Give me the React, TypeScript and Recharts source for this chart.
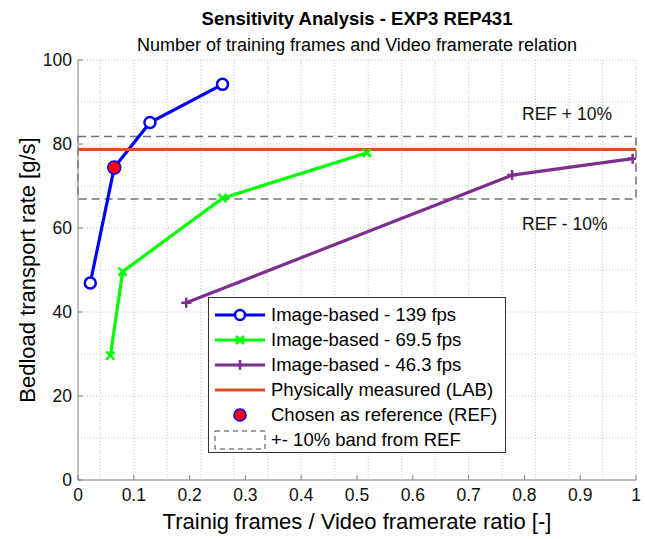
import React from 'react';
import {
  ComposedChart,
  Line,
  Scatter,
  XAxis,
  YAxis,
  CartesianGrid,
  ReferenceLine,
  ReferenceArea,
} from 'recharts';

// ratio of training frames to video framerate, and bedload rate [g/s]
const fps139 = [
  { x: 0.022, y: 46.9 },
  { x: 0.065, y: 74.4 },
  { x: 0.129, y: 85.1 },
  { x: 0.259, y: 94.2 },
];
const fps69 = [
  { x: 0.058, y: 29.6 },
  { x: 0.08, y: 49.6 },
  { x: 0.259, y: 67.1 },
  { x: 0.518, y: 77.9 },
];
const fps46 = [
  { x: 0.194, y: 42.2 },
  { x: 0.778, y: 72.6 },
  { x: 0.994, y: 76.5 },
];
const labValue = 78.7;
const refPoint = [{ x: 0.065, y: 74.4 }];
const bandUpper = 81.8;
const bandLower = 66.9;

const xTicks = [0, 0.1, 0.2, 0.3, 0.4, 0.5, 0.6, 0.7, 0.8, 0.9, 1];
const yTicks = [0, 20, 40, 60, 80, 100];
const xMinor = Array.from({ length: 51 }, (_, i) => i / 50);
const yMinor = Array.from({ length: 21 }, (_, i) => i * 5);

const FONT = '"Liberation Sans", Arial, Helvetica, sans-serif';
const BLUE = '#0000FF';
const GREEN = '#00FF00';
const PURPLE = '#7E2F8E';
const ORANGE = '#D95319';
const AXIS = '#808080';

const CircleDot = (p: any) => (
  <circle key={`c${p.index}`} cx={p.cx} cy={p.cy} r={5.5} fill="white" stroke={BLUE} strokeWidth={2.5} />
);
const CrossDot = (p: any) => (
  <path
    key={`x${p.index}`}
    d={`M${p.cx - 4},${p.cy - 4}L${p.cx + 4},${p.cy + 4}M${p.cx - 4},${p.cy + 4}L${p.cx + 4},${p.cy - 4}`}
    stroke={GREEN}
    strokeWidth={2.5}
  />
);
const PlusDot = (p: any) => (
  <path
    key={`p${p.index}`}
    d={`M${p.cx - 5},${p.cy}L${p.cx + 5},${p.cy}M${p.cx},${p.cy - 5}L${p.cx},${p.cy + 5}`}
    stroke={PURPLE}
    strokeWidth={2.5}
  />
);
const RefShape = (p: any) => (
  <circle cx={p.cx} cy={p.cy} r={6.5} fill="#FF0000" stroke={BLUE} strokeWidth={1.5} />
);

const legendItems = [
  { label: 'Image-based - 139 fps', kind: 'o', color: BLUE },
  { label: 'Image-based - 69.5 fps', kind: 'x', color: GREEN },
  { label: 'Image-based - 46.3 fps', kind: '+', color: PURPLE },
  { label: 'Physically measured (LAB)', kind: '-', color: ORANGE },
  { label: 'Chosen as reference (REF)', kind: 'dot', color: '#FF0000' },
  { label: '+- 10% band from REF', kind: 'band', color: AXIS },
];

function LegendSample({ kind, color }: { kind: string; color: string }) {
  return (
    <svg width={54} height={22} style={{ display: 'block' }}>
      {(kind === 'o' || kind === 'x' || kind === '+' || kind === '-') && (
        <line x1={2} y1={11} x2={52} y2={11} stroke={color} strokeWidth={3} />
      )}
      {kind === 'o' && <circle cx={27} cy={11} r={5} fill="white" stroke={color} strokeWidth={2.5} />}
      {kind === 'x' && <path d="M23,7L31,15M23,15L31,7" stroke={color} strokeWidth={2.5} />}
      {kind === '+' && <path d="M22,11L32,11M27,6L27,16" stroke={color} strokeWidth={2.5} />}
      {kind === 'dot' && <circle cx={27} cy={11} r={6} fill={color} stroke={BLUE} strokeWidth={1.5} />}
      {kind === 'band' && (
        <rect x={2} y={2} width={50} height={18} fill="none" stroke="#444" strokeDasharray="5 4" strokeWidth={1} />
      )}
    </svg>
  );
}

export default function App() {
  return (
    <div style={{ position: 'absolute', left: 0, top: 0, width: 645, height: 539, background: 'white', fontFamily: FONT }}>
      <ComposedChart
        width={645}
        height={539}
        margin={{ top: 60, right: 9, bottom: 19, left: 18 }}
      >
        <CartesianGrid
          verticalValues={xMinor}
          horizontalValues={yMinor}
          stroke="#c8c8c8"
          strokeDasharray="1 2"
        />
        <XAxis
          dataKey="x"
          type="number"
          domain={[0, 1]}
          ticks={xTicks}
          allowDataOverflow
          height={40}
          tickSize={-5}
          tickMargin={14}
          stroke={AXIS}
          tick={{ fill: '#111', fontSize: 17.5, fontFamily: FONT }}
        />
        <XAxis
          xAxisId="top"
          orientation="top"
          type="number"
          domain={[0, 1]}
          ticks={xTicks}
          height={0}
          tickSize={-5}
          tick={false}
          stroke={AXIS}
        />
        <YAxis
          type="number"
          domain={[0, 100]}
          ticks={yTicks}
          width={60}
          tickSize={-5}
          tickMargin={11}
          stroke={AXIS}
          tick={{ fill: '#111', fontSize: 17.5, fontFamily: FONT }}
        />
        <YAxis
          yAxisId="right"
          orientation="right"
          type="number"
          domain={[0, 100]}
          ticks={yTicks}
          width={0}
          tickSize={-5}
          tick={false}
          stroke={AXIS}
        />
        <ReferenceArea
          x1={0}
          x2={1}
          y1={bandLower}
          y2={bandUpper}
          fill="none"
          fillOpacity={0}
          stroke="#707070"
          strokeWidth={1.5}
          strokeDasharray="8 5"
        />
        <Line data={fps139} dataKey="y" type="linear" stroke={BLUE} strokeWidth={3.2} dot={CircleDot} isAnimationActive={false} />
        <Line data={fps69} dataKey="y" type="linear" stroke={GREEN} strokeWidth={3.2} dot={CrossDot} isAnimationActive={false} />
        <Line data={fps46} dataKey="y" type="linear" stroke={PURPLE} strokeWidth={3.2} dot={PlusDot} isAnimationActive={false} />
        <ReferenceLine y={labValue} stroke={ORANGE} strokeWidth={3} />
        <Scatter data={refPoint} dataKey="y" shape={RefShape} isAnimationActive={false} />
      </ComposedChart>

      <div style={{ position: 'absolute', left: 78, width: 558, top: 8, textAlign: 'center', fontSize: 18.5, fontWeight: 'bold', color: '#000' }}>
        Sensitivity Analysis - EXP3 REP431
      </div>
      <div style={{ position: 'absolute', left: 78, width: 558, top: 35, textAlign: 'center', fontSize: 18, color: '#000' }}>
        Number of training frames and Video framerate relation
      </div>
      <div style={{ position: 'absolute', left: 78, width: 558, top: 509, textAlign: 'center', fontSize: 22, color: '#000' }}>
        Trainig frames / Video framerate ratio [-]
      </div>
      <div
        style={{
          position: 'absolute',
          left: 28,
          top: 270,
          transform: 'translate(-50%, -50%) rotate(-90deg)',
          whiteSpace: 'nowrap',
          fontSize: 22,
          color: '#000',
        }}
      >
        Bedload transport rate [g/s]
      </div>
      <div style={{ position: 'absolute', left: 522, top: 104, fontSize: 17.5, color: '#111' }}>REF + 10%</div>
      <div style={{ position: 'absolute', left: 522, top: 214, fontSize: 17.5, color: '#111' }}>REF - 10%</div>

      <div
        style={{
          position: 'absolute',
          left: 208,
          top: 297,
          width: 298,
          height: 156,
          border: '1px solid #333',
          background: 'white',
          boxSizing: 'border-box',
          paddingTop: 4,
        }}
      >
        {legendItems.map((it) => (
          <div key={it.label} style={{ display: 'flex', alignItems: 'center', height: 25, marginLeft: 4 }}>
            <LegendSample kind={it.kind} color={it.color} />
            <span style={{ marginLeft: 4, fontSize: 18.5, color: '#000', whiteSpace: 'nowrap' }}>{it.label}</span>
          </div>
        ))}
      </div>
    </div>
  );
}
